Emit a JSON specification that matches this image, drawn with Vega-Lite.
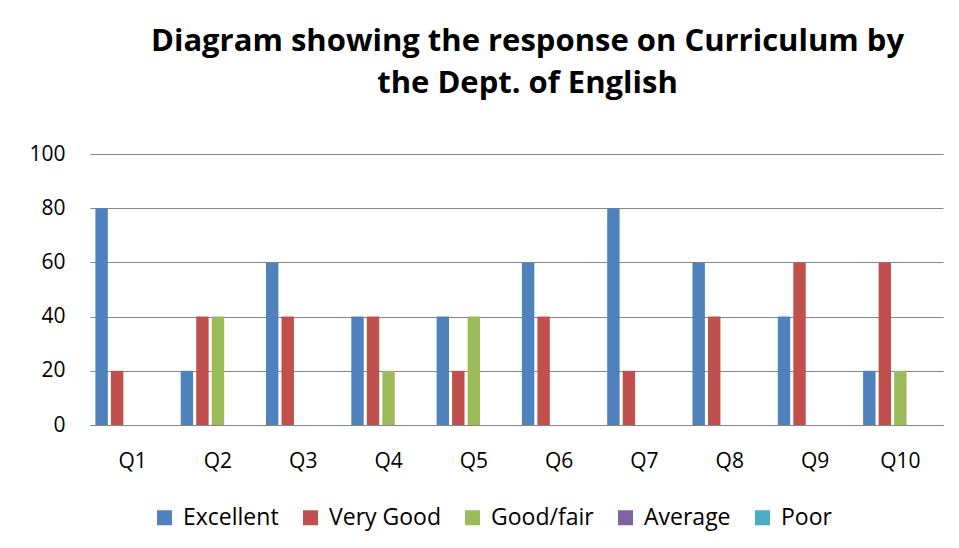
{
  "$schema": "https://vega.github.io/schema/vega-lite/v6.json",
  "width": 853,
  "height": 271,
  "autosize": {"type": "none"},
  "padding": {"left": 90, "top": 154, "right": 16, "bottom": 123},
  "background": "white",
  "title": {
    "text": ["Diagram showing the response on Curriculum by", "the Dept. of English"],
    "font": "Open Sans",
    "fontSize": 31,
    "fontWeight": "bold",
    "color": "black",
    "lineHeight": 42,
    "anchor": "middle",
    "dx": 11,
    "offset": 43
  },
  "data": {
    "values": [
      {"q": "Q1", "s": "Excellent", "v": 80}, {"q": "Q1", "s": "Very Good", "v": 20}, {"q": "Q1", "s": "Good/fair", "v": 0}, {"q": "Q1", "s": "Average", "v": 0}, {"q": "Q1", "s": "Poor", "v": 0},
      {"q": "Q2", "s": "Excellent", "v": 20}, {"q": "Q2", "s": "Very Good", "v": 40}, {"q": "Q2", "s": "Good/fair", "v": 40}, {"q": "Q2", "s": "Average", "v": 0}, {"q": "Q2", "s": "Poor", "v": 0},
      {"q": "Q3", "s": "Excellent", "v": 60}, {"q": "Q3", "s": "Very Good", "v": 40}, {"q": "Q3", "s": "Good/fair", "v": 0}, {"q": "Q3", "s": "Average", "v": 0}, {"q": "Q3", "s": "Poor", "v": 0},
      {"q": "Q4", "s": "Excellent", "v": 40}, {"q": "Q4", "s": "Very Good", "v": 40}, {"q": "Q4", "s": "Good/fair", "v": 20}, {"q": "Q4", "s": "Average", "v": 0}, {"q": "Q4", "s": "Poor", "v": 0},
      {"q": "Q5", "s": "Excellent", "v": 40}, {"q": "Q5", "s": "Very Good", "v": 20}, {"q": "Q5", "s": "Good/fair", "v": 40}, {"q": "Q5", "s": "Average", "v": 0}, {"q": "Q5", "s": "Poor", "v": 0},
      {"q": "Q6", "s": "Excellent", "v": 60}, {"q": "Q6", "s": "Very Good", "v": 40}, {"q": "Q6", "s": "Good/fair", "v": 0}, {"q": "Q6", "s": "Average", "v": 0}, {"q": "Q6", "s": "Poor", "v": 0},
      {"q": "Q7", "s": "Excellent", "v": 80}, {"q": "Q7", "s": "Very Good", "v": 20}, {"q": "Q7", "s": "Good/fair", "v": 0}, {"q": "Q7", "s": "Average", "v": 0}, {"q": "Q7", "s": "Poor", "v": 0},
      {"q": "Q8", "s": "Excellent", "v": 60}, {"q": "Q8", "s": "Very Good", "v": 40}, {"q": "Q8", "s": "Good/fair", "v": 0}, {"q": "Q8", "s": "Average", "v": 0}, {"q": "Q8", "s": "Poor", "v": 0},
      {"q": "Q9", "s": "Excellent", "v": 40}, {"q": "Q9", "s": "Very Good", "v": 60}, {"q": "Q9", "s": "Good/fair", "v": 0}, {"q": "Q9", "s": "Average", "v": 0}, {"q": "Q9", "s": "Poor", "v": 0},
      {"q": "Q10", "s": "Excellent", "v": 20}, {"q": "Q10", "s": "Very Good", "v": 60}, {"q": "Q10", "s": "Good/fair", "v": 20}, {"q": "Q10", "s": "Average", "v": 0}, {"q": "Q10", "s": "Poor", "v": 0}
    ]
  },
  "mark": {"type": "bar"},
  "encoding": {
    "x": {
      "field": "q", "type": "nominal", "sort": null,
      "scale": {"paddingInner": 0.09, "paddingOuter": 0.045},
      "axis": {
        "title": null, "labelAngle": 0, "ticks": false, "grid": false,
        "domain": true, "domainColor": "#868686", "domainWidth": 1,
        "labelFont": "Open Sans", "labelFontSize": 21, "labelColor": "black", "labelPadding": 25
      }
    },
    "xOffset": {
      "field": "s", "type": "nominal",
      "sort": ["Excellent", "Very Good", "Good/fair", "Average", "Poor"],
      "scale": {"paddingInner": 0.2, "paddingOuter": 0.1}
    },
    "y": {
      "field": "v", "type": "quantitative",
      "scale": {"domain": [0, 100]},
      "axis": {
        "title": null, "values": [0, 20, 40, 60, 80, 100], "domain": false, "ticks": false,
        "grid": true, "gridColor": "#868686", "gridWidth": 1, "gridOpacity": 1,
        "labelFont": "Open Sans", "labelFontSize": 21, "labelColor": "black", "labelPadding": 25
      }
    },
    "color": {
      "field": "s", "type": "nominal",
      "sort": ["Excellent", "Very Good", "Good/fair", "Average", "Poor"],
      "scale": {
        "domain": ["Excellent", "Very Good", "Good/fair", "Average", "Poor"],
        "range": ["#4F81BD", "#C0504D", "#9BBB59", "#8064A2", "#4BACC6"]
      },
      "legend": {
        "title": null, "orient": "none", "direction": "horizontal",
        "legendX": 63, "legendY": 352,
        "symbolType": "square", "symbolSize": 225, "symbolStrokeWidth": 0,
        "labelFont": "Open Sans", "labelFontSize": 23, "labelColor": "black",
        "columnPadding": 20, "labelOffset": 7
      }
    }
  },
  "config": {"view": {"stroke": null}}
}
